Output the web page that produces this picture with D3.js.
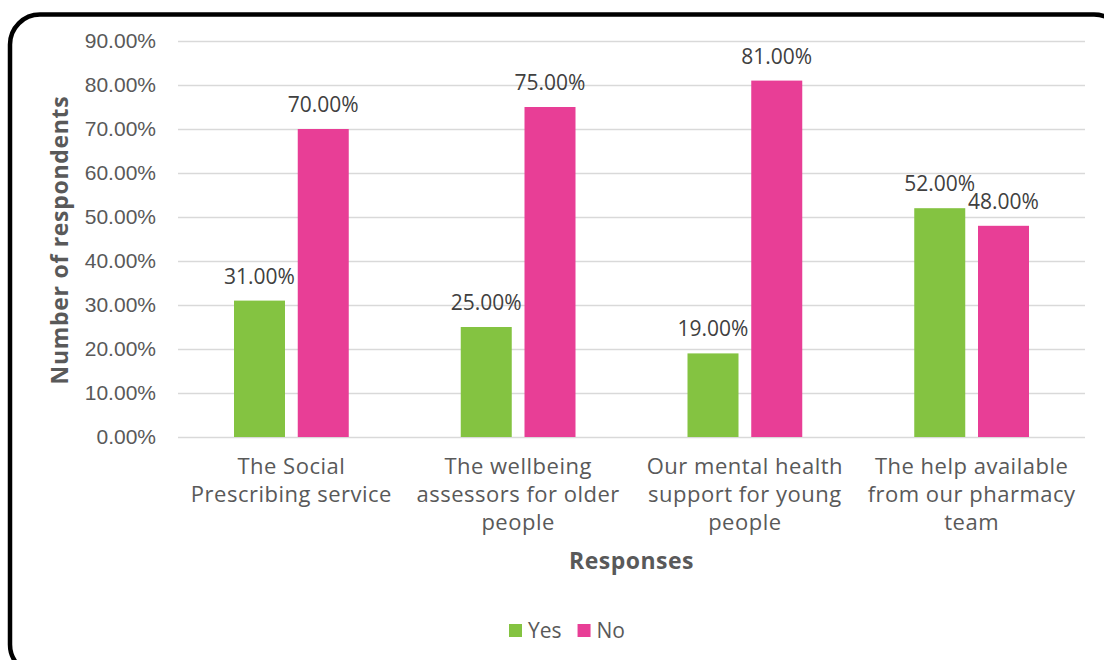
<!DOCTYPE html>
<html>
<head>
<meta charset="utf-8">
<script src="https://cdn.jsdelivr.net/npm/d3@7"></script>
<style>
  html, body { margin: 0; padding: 0; background: #fff; }
  svg { display: block; font-family: "Open Sans", "Noto Sans", sans-serif; }
</style>
</head>
<body>
<svg id="chart" width="1104" height="660"></svg>
<script>
// Survey results: share of respondents answering Yes / No per service
const categories = [
  "The Social\nPrescribing service",
  "The wellbeing\nassessors for older\npeople",
  "Our mental health\nsupport for young\npeople",
  "The help available\nfrom our pharmacy\nteam"
];
const seriesNames = ["Yes", "No"];
const yesValues = [31, 25, 19, 52];
const noValues = [70, 75, 81, 48];
const yTicks = [0, 10, 20, 30, 40, 50, 60, 70, 80, 90];

const colors = { Yes: "#84C341", No: "#E83E96" };
const textColor = "#595959";

const svg = d3.select("#chart");

// Rounded frame around the chart area
svg.append("rect")
  .attr("x", 10).attr("y", 14.5)
  .attr("width", 1114).attr("height", 660)
  .attr("rx", 30).attr("ry", 30)
  .attr("fill", "#fff")
  .attr("stroke", "#000")
  .attr("stroke-width", 4.5);

const plot = { left: 178, right: 1085, top: 41, bottom: 437 };

const y = d3.scaleLinear().domain([0, 90]).range([plot.bottom, plot.top]);
const x0 = d3.scaleBand().domain(categories).range([plot.left, plot.right]);
const x1 = d3.scaleBand().domain(seriesNames)
  .range([56, x0.bandwidth() - 56]).paddingInner(0.2);

// Gridlines and y tick labels
const yAxis = d3.axisLeft(y)
  .tickValues(yTicks)
  .tickSize(-(plot.right - plot.left))
  .tickPadding(22)
  .tickFormat(d => d.toFixed(2) + "%");

const gy = svg.append("g")
  .attr("transform", `translate(${plot.left},0)`)
  .call(yAxis);
gy.select(".domain").remove();
gy.selectAll(".tick line").attr("stroke", "#d9d9d9").attr("stroke-width", 1.5);
gy.selectAll(".tick text")
  .attr("fill", textColor)
  .style("font-size", "21px");

// Bars
const rows = categories.map((c, i) => ({ cat: c, Yes: yesValues[i], No: noValues[i] }));

const groups = svg.append("g").selectAll("g")
  .data(rows).join("g")
  .attr("transform", d => `translate(${x0(d.cat)},0)`);

groups.selectAll("rect")
  .data(d => seriesNames.map(s => ({ key: s, value: d[s] })))
  .join("rect")
  .attr("x", d => x1(d.key))
  .attr("y", d => y(d.value))
  .attr("width", x1.bandwidth())
  .attr("height", d => y(0) - y(d.value))
  .attr("fill", d => colors[d.key]);

// Value labels above bars
groups.selectAll("text.val")
  .data(d => seriesNames.map(s => ({ key: s, value: d[s] })))
  .join("text")
  .attr("class", "val")
  .attr("x", d => x1(d.key) + x1.bandwidth() / 2)
  .attr("y", d => y(d.value) - 17)
  .attr("text-anchor", "middle")
  .attr("fill", "#404040")
  .style("font-size", "21px")
  .text(d => d.value.toFixed(2) + "%");

// Category labels (multi-line)
const catG = svg.append("g");
categories.forEach(c => {
  const lines = c.split("\n");
  const t = catG.append("text")
    .attr("text-anchor", "middle")
    .attr("fill", textColor)
    .style("font-size", "22px")
    .style("letter-spacing", "0.5px");
  lines.forEach((ln, i) => {
    t.append("tspan")
      .attr("x", x0(c) + x0.bandwidth() / 2)
      .attr("y", 474 + i * 28)
      .text(ln);
  });
});

// Axis titles
svg.append("text")
  .attr("x", (plot.left + plot.right) / 2)
  .attr("y", 569)
  .attr("text-anchor", "middle")
  .attr("fill", textColor)
  .style("font-size", "23px")
  .style("font-weight", "bold")
  .style("letter-spacing", "0.5px")
  .text("Responses");

svg.append("text")
  .attr("transform", "translate(68,240) rotate(-90)")
  .attr("text-anchor", "middle")
  .attr("fill", textColor)
  .style("font-size", "23px")
  .style("font-weight", "bold")
  .style("letter-spacing", "0.7px")
  .text("Number of respondents");

// Legend
const legend = svg.append("g").attr("transform", "translate(509,631)");
let lx = 0;
seriesNames.forEach(s => {
  legend.append("rect")
    .attr("x", lx).attr("y", -7)
    .attr("width", 13).attr("height", 13)
    .attr("fill", colors[s]);
  const t = legend.append("text")
    .attr("x", lx + 19).attr("y", 7)
    .attr("fill", textColor)
    .style("font-size", "21px")
    .text(s);
  lx += 19 + t.node().getComputedTextLength() + 16;
});
</script>
</body>
</html>
